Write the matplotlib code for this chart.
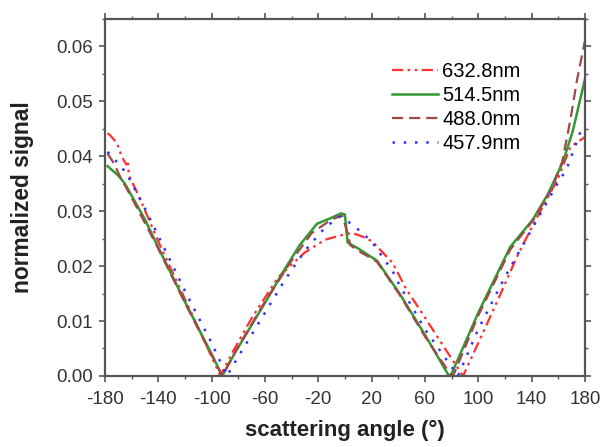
import matplotlib
matplotlib.use('Agg')
import matplotlib.pyplot as plt
from matplotlib.ticker import MultipleLocator

# 632.8 nm
ang_r = [-178, -176, -171, -167.5, -164, -162.7, -162, -155, -140, -120, -100, -93.5,
         -85, -70, -50, -30, -15, 0, 6, 15, 21, 36, 46, 58, 75, 88.6,
         100, 115, 129, 140, 151, 160, 169, 180]
sig_r = [0.0442, 0.0438, 0.0424, 0.0400, 0.0385, 0.0387, 0.0365, 0.0330, 0.0245, 0.0140, 0.0035, 0.0,
         0.0040, 0.0105, 0.0180, 0.0225, 0.0248, 0.0258, 0.0260, 0.0252, 0.0244, 0.0205, 0.0158, 0.0114, 0.0050, 0.0,
         0.0060, 0.0140, 0.0217, 0.0270, 0.0320, 0.0360, 0.0417, 0.0435]

# 514.5 nm
ang_g = [-178, -170, -165, -150, -140, -120, -100, -92, -82.5, -60, -45, -34, -21, -10, -3, 0,
         2, 10, 24, 41, 60, 78, 80, 100, 124, 141, 152, 163.6, 171, 180]
sig_g = [0.0382, 0.0365, 0.0350, 0.0285, 0.0234, 0.0135, 0.0040, 0.0, 0.0042, 0.0133, 0.0195, 0.0238, 0.0277, 0.0288, 0.0296, 0.0294,
         0.0243, 0.0232, 0.0210, 0.0150, 0.0075, 0.0, 0.0004, 0.0115, 0.0235, 0.0285, 0.0330, 0.0390, 0.0447, 0.0540]

# 488.0 nm
ang_b = [-178, -174, -168, -160, -140, -120, -100, -92, -82, -60, -40, -25, -10, -2,
         2, 4, 10, 24, 41, 60, 80, 82, 100, 124, 141, 155, 163, 169, 174, 180]
sig_b = [0.0405, 0.0390, 0.0360, 0.0325, 0.0232, 0.0133, 0.0038, 0.0, 0.0045, 0.0135, 0.0210, 0.0260, 0.0285, 0.0292,
         0.0260, 0.0238, 0.0228, 0.0208, 0.0148, 0.0072, 0.0, 0.0005, 0.0110, 0.0230, 0.0283, 0.0340, 0.0390, 0.0465, 0.0538, 0.0610]

# 457.9 nm
ang_u = [-178, -170, -163.8, -150, -140, -120, -100, -88.5, -80, -60, -45, -30, -15, -4, 0, 7.5,
         20, 36, 41, 60, 84.8, 100, 120, 144, 160, 166, 177.5]
sig_u = [0.0408, 0.0387, 0.0369, 0.0305, 0.0255, 0.0155, 0.0060, 0.0, 0.0035, 0.0115, 0.0175, 0.0228, 0.0270, 0.0290, 0.0285, 0.0272,
         0.0245, 0.0190, 0.0165, 0.0085, 0.0, 0.0085, 0.0180, 0.0284, 0.0353, 0.0375, 0.0450]

xticks = [-180, -140, -100, -60, -20, 20, 60, 100, 140, 180]

plt.rcParams['font.family'] = ['Liberation Sans', 'DejaVu Sans']
plt.rcParams['axes.unicode_minus'] = False

fig = plt.figure(figsize=(6.03, 4.47), dpi=100)
ax = fig.add_axes([0.174, 0.159, 0.796, 0.7985])

ax.plot(ang_r, sig_r, color='#ff3030', linestyle=(0, (5, 2, 1.2, 2, 1.2, 2)), lw=1.6, label='632.8nm')
ax.plot(ang_g, sig_g, color='#339933', linestyle='-', lw=1.8, label='514.5nm')
ax.plot(ang_b, sig_b, color='#a04848', linestyle=(0, (5, 2.7)), lw=1.6, label='488.0nm')
ax.plot(ang_u, sig_u, color='#3030ff', linestyle=(0, (1, 3.5)), lw=1.8, label='457.9nm')

ax.set_xlim(-180, 180)
ax.set_ylim(0, 0.065)
ax.set_xticks(xticks)
ax.xaxis.set_minor_locator(MultipleLocator(20))
ax.yaxis.set_major_locator(MultipleLocator(0.01))
ax.yaxis.set_minor_locator(MultipleLocator(0.005))
ax.yaxis.set_major_formatter(matplotlib.ticker.FormatStrFormatter('%.2f'))

for sp in ax.spines.values():
  sp.set_color('#555555')
  sp.set_linewidth(1.6)
ax.tick_params(which='both', direction='out', top=True, right=True, color='#555555',
               labelsize=13.5, labelcolor='#333333')
ax.tick_params(which='major', length=4.5, width=1.2)
ax.tick_params(axis='x', which='major', pad=6)
ax.tick_params(axis='y', which='major', pad=4)
ax.tick_params(which='minor', length=2.5, width=1.0)

ax.set_xlabel('scattering angle (°)', fontsize=16, fontweight='bold', labelpad=9, color='#222222')
ax.set_ylabel('normalized signal', fontsize=16.4, fontweight='bold', labelpad=16, color='#222222')

ax.legend(loc='upper left', bbox_to_anchor=(0.598, 0.88), frameon=False, fontsize=14.5,
          handlelength=2.3, handletextpad=0.2, labelspacing=0.25, borderpad=0, borderaxespad=0)

fig.savefig('out.png', dpi=100)
